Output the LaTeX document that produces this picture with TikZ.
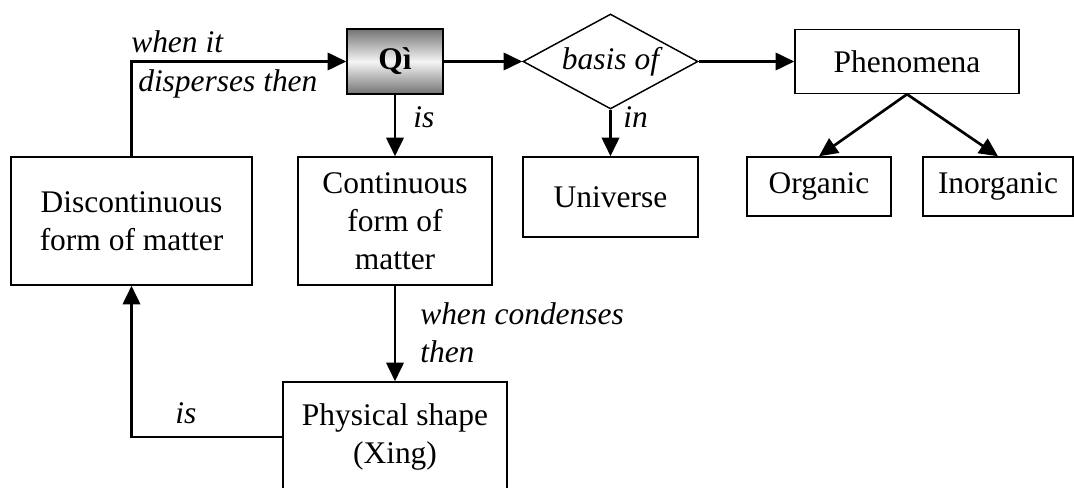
\documentclass[tikz,border=0pt]{standalone}
\usepackage{fontspec}
\setmainfont{Liberation Serif}
\usepackage{tikz}
\usetikzlibrary{arrows.meta, positioning, shapes.geometric}

\newcommand{\mapfont}{\fontsize{23.6}{28.5}\selectfont}

\begin{document}
\begin{tikzpicture}[x=0.75pt, y=-0.75pt,
    box/.style={draw, line width=1.1pt, inner sep=0pt, align=center, font=\mapfont},
    link/.style={line width=2pt, -{Triangle[length=14pt, width=13pt]}},
    tag/.style={inner sep=0pt, font=\mapfont\itshape}]
    \useasboundingbox (0,0) rectangle (1074,488);

    % top row
    \node[box, minimum width=72pt, minimum height=48.75pt,
          top color=black!55, bottom color=black!55, middle color=black!4,
          font=\mapfont\bfseries] (qi) at (395,61.5) {Qì};
    \node[box, diamond, aspect=1.84, minimum width=131.25pt, minimum height=71.25pt,
          font=\mapfont\itshape] (basis) at (610.5,61.5) {basis of};
    \node[box, minimum width=168pt, minimum height=48pt] (phen) at (907,61.5) {Phenomena};

    % middle row
    \node[box, minimum width=180.75pt, minimum height=96pt] (disc) at (131.5,221)
        {Discontinuous\\form of matter};
    \node[box, minimum width=145.5pt, minimum height=96pt] (cont) at (395,221)
        {Continuous\\form of\\matter};
    \node[box, minimum width=131.25pt, minimum height=60pt] (univ) at (610.5,197) {Universe};
    \node[box, minimum width=108pt, minimum height=44.25pt] (organic) at (819,186.5) {Organic};
    \node[box, minimum width=112.5pt, minimum height=44.25pt] (inorganic) at (998,186.5) {Inorganic};

    % bottom
    \node[box, minimum width=168pt, minimum height=82.5pt] (phys) at (395,437)
        {Physical shape\\(Xing)};

    % links
    \draw[link] (qi.east) -- (basis.west);
    \draw[link] (basis.east) -- (phen.west);
    \draw[link] (qi.south) -- (cont.north);
    \draw[link] (basis.south) -- (univ.north);
    \draw[link] (phen.south) -- (organic.north);
    \draw[link] (phen.south) -- (inorganic.north);
    \draw[link] (disc.north) |- (qi.west);
    \draw[link] (cont.south) -- (phys.north);
    \draw[link] (phys.west) -| (disc.south);

    % link texts
    \node[tag, anchor=base west] (whenit) at (131,53) {when it};
    \node[tag, anchor=base west] (disperse) at (138,92) {disperses then};
    \node[tag, anchor=base west] (isqi) at (413,128) {is};
    \node[tag, anchor=base west] (inbasis) at (623,128) {in};
    \node[tag, anchor=west, align=left] (condense) at (420,333) {when condenses\\then};
    \node[tag, anchor=base west] (isphys) at (175,423) {is};
\end{tikzpicture}
\end{document}
